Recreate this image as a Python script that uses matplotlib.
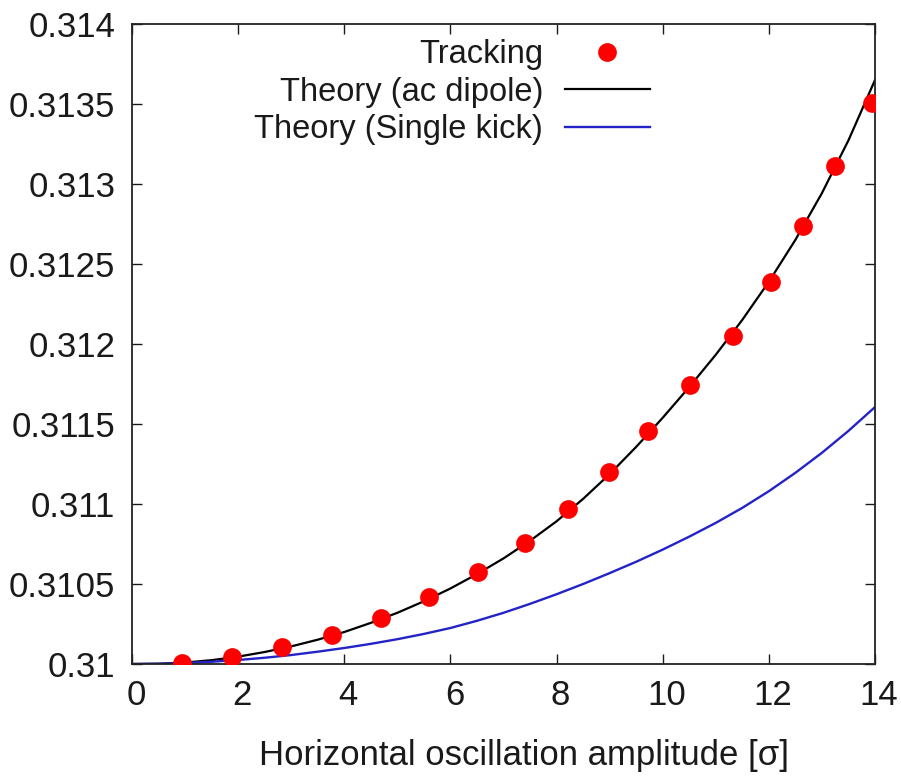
import numpy as np
import matplotlib
matplotlib.use("Agg")
import matplotlib.pyplot as plt
import matplotlib.transforms as mtransforms

plt.rcParams['font.family'] = ['Liberation Sans', 'DejaVu Sans']

# tracking results (amplitude in sigma, tune)
track_x = [0.94, 1.88, 2.83, 3.77, 4.69, 5.60, 6.52, 7.41, 8.22, 8.99,
           9.72, 10.51, 11.32, 12.04, 12.64, 13.25, 13.94]
track_y = [0.310006, 0.310044, 0.310106, 0.310181, 0.310288, 0.310419,
           0.310575, 0.310756, 0.310969, 0.311200, 0.311456, 0.311744,
           0.312050, 0.312388, 0.312738, 0.313113, 0.313506]

# curves read every 0.5 sigma
curve_x = [0, 0.5, 1, 1.5, 2, 2.5, 3, 3.5, 4, 4.5, 5, 5.5, 6, 6.5, 7, 7.5,
           8, 8.5, 9, 9.5, 10, 10.5, 11, 11.5, 12, 12.5, 13, 13.5, 14]

# theory, ac dipole
acd_y = [0.310000, 0.310002, 0.310009, 0.310024, 0.310046, 0.310075,
         0.310110, 0.310152, 0.310200, 0.310257, 0.310320, 0.310392,
         0.310472, 0.310562, 0.310660, 0.310770, 0.310892, 0.311032,
         0.311187, 0.311357, 0.311539, 0.311731, 0.311933, 0.312151,
         0.312389, 0.312651, 0.312943, 0.313273, 0.313650]

# theory, single kick
kick_y = [0.310000, 0.310001, 0.310006, 0.310014, 0.310025, 0.310039,
          0.310056, 0.310077, 0.310100, 0.310126, 0.310155, 0.310188,
          0.310225, 0.310270, 0.310320, 0.310376, 0.310436, 0.310500,
          0.310568, 0.310639, 0.310715, 0.310796, 0.310882, 0.310976,
          0.311080, 0.311195, 0.311320, 0.311457, 0.311606]

xticks = [0, 2, 4, 6, 8, 10, 12, 14]
yticks = [0.31, 0.3105, 0.311, 0.3115, 0.312, 0.3125, 0.313, 0.3135, 0.314]
ytick_labels = ['0.31', '0.3105', '0.311', '0.3115', '0.312', '0.3125',
                '0.313', '0.3135', '0.314']

fig = plt.figure(figsize=(9.01, 7.78), dpi=100)
ax = fig.add_axes([132 / 901, 1 - 664 / 778, 743 / 901, 640 / 778])

ax.plot(track_x, track_y, 'o', color='#ff0000', markersize=13.5,
        markeredgewidth=0, label='Tracking', zorder=3)
ax.plot(curve_x, acd_y, color='black', lw=1.6, label='Theory (ac dipole)', zorder=2)
ax.plot(curve_x, kick_y, color='#2323c8', lw=1.7, label='Theory (Single kick)', zorder=2)

ax.set_xlim(0, 14)
ax.set_ylim(0.31, 0.314)
ax.set_xticks(xticks)
ax.set_xticklabels([str(t) for t in xticks])
ax.set_yticks(yticks)
ax.set_yticklabels(ytick_labels)
ax.tick_params(direction='in', length=7, width=1, top=True, right=True,
               labelsize=25, colors='#1a1a1a')
ax.tick_params(axis='y', pad=12)
ax.tick_params(axis='x', pad=11)
for s in ax.spines.values():
    s.set_linewidth(1.3)
    s.set_color('#222222')

# x tick labels sit a few pixels right of their ticks in the original
shift = mtransforms.ScaledTranslation(4 / 100, 0, fig.dpi_scale_trans)
for lab in ax.get_xticklabels():
    lab.set_transform(lab.get_transform() + shift)

ax.set_xlabel('Horizontal oscillation amplitude [σ]', fontsize=25, color='#1a1a1a')
ax.xaxis.set_label_coords(0.528, -0.117)

leg = ax.legend(loc='upper right', bbox_to_anchor=(0.697, 0.976), frameon=False,
                markerfirst=False, numpoints=1, fontsize=23.5, handlelength=2.6,
                handletextpad=0.67, labelspacing=0.2, borderpad=0, borderaxespad=0)
for t in leg.get_texts():
    t.set_ha('right')
    t.set_color('#1a1a1a')

fig.savefig('out.png', dpi=100)
